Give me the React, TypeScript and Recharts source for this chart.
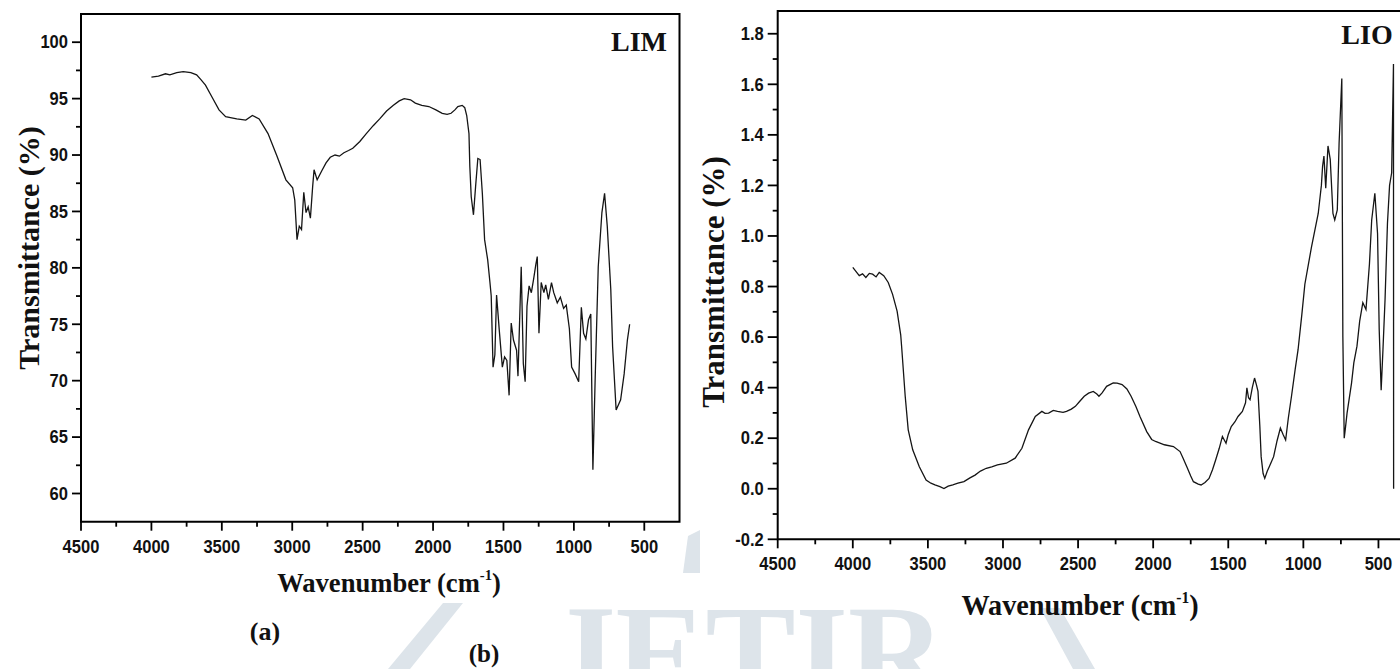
import React from "react";
import { LineChart, Line, XAxis, YAxis, ReferenceArea } from "recharts";

// wavenumber (cm-1), transmittance
const limSpectrum: [number, number][] = [
  [4000, 96.9], [3950, 97.0], [3900, 97.2], [3869, 97.1], [3820, 97.3], [3774, 97.4],
  [3720, 97.3], [3679, 97.1], [3650, 96.7], [3616, 96.2], [3568, 95.1], [3520, 94.0],
  [3473, 93.4], [3430, 93.3], [3394, 93.2], [3330, 93.1], [3283, 93.5], [3235, 93.2],
  [3172, 91.9], [3108, 89.9], [3045, 87.8], [2997, 87.1], [2982, 86.0], [2966, 82.5],
  [2950, 83.7], [2934, 83.4], [2918, 86.7], [2902, 84.9], [2887, 85.4], [2871, 84.4],
  [2855, 87.2], [2845, 88.7], [2823, 87.8], [2790, 88.6], [2760, 89.3], [2730, 89.8],
  [2696, 90.0], [2665, 89.9], [2633, 90.2], [2600, 90.4], [2570, 90.6], [2520, 91.2],
  [2474, 91.9], [2425, 92.6], [2379, 93.2], [2330, 93.9], [2284, 94.4], [2240, 94.8],
  [2205, 95.0], [2160, 94.9], [2126, 94.6], [2080, 94.4], [2030, 94.3], [1980, 94.0],
  [1935, 93.7], [1900, 93.6], [1872, 93.7], [1845, 94.0], [1824, 94.3], [1793, 94.4],
  [1775, 94.2], [1761, 93.5], [1745, 91.9], [1739, 89.0], [1729, 86.3], [1713, 84.7],
  [1698, 87.2], [1682, 89.7], [1666, 89.6], [1650, 86.6], [1634, 82.5], [1612, 80.7],
  [1596, 78.7], [1587, 77.5], [1574, 71.2], [1561, 72.3], [1549, 77.6], [1530, 74.5],
  [1508, 71.2], [1492, 72.1], [1476, 71.8], [1460, 68.7], [1445, 75.1], [1429, 73.6],
  [1407, 72.7], [1397, 70.4], [1374, 80.1], [1359, 71.5], [1346, 69.9], [1333, 76.6],
  [1318, 78.4], [1302, 77.8], [1286, 79.0], [1270, 80.3], [1260, 81.0], [1248, 74.2],
  [1232, 78.7], [1213, 77.8], [1200, 78.5], [1181, 77.2], [1159, 78.7], [1143, 77.8],
  [1118, 76.9], [1096, 77.4], [1073, 76.4], [1054, 76.7], [1032, 74.6], [1016, 71.2],
  [991, 70.6], [966, 69.9], [947, 76.5], [931, 74.2], [915, 73.7], [896, 75.4],
  [880, 75.9], [865, 62.1], [849, 70.1], [827, 80.1], [801, 84.9], [782, 86.6],
  [763, 83.7], [738, 78.1], [725, 73.0], [700, 67.4], [668, 68.3], [643, 70.6],
  [620, 73.6], [604, 75.0],
];

const lioSpectrum: [number, number][] = [
  [4000, 0.876], [3957, 0.843], [3935, 0.85], [3913, 0.836], [3890, 0.852], [3868, 0.849],
  [3845, 0.838], [3824, 0.856], [3794, 0.843], [3764, 0.816], [3735, 0.769], [3705, 0.703],
  [3681, 0.609], [3675, 0.564], [3651, 0.366], [3631, 0.233], [3601, 0.154], [3557, 0.087],
  [3512, 0.034], [3480, 0.022], [3453, 0.015], [3420, 0.008], [3393, 0.001], [3365, 0.01],
  [3334, 0.015], [3300, 0.022], [3260, 0.028], [3220, 0.043], [3186, 0.054], [3150, 0.07],
  [3111, 0.081], [3075, 0.087], [3037, 0.094], [2978, 0.101], [2919, 0.121], [2874, 0.16],
  [2830, 0.233], [2785, 0.286], [2741, 0.306], [2720, 0.298], [2696, 0.299], [2665, 0.31],
  [2637, 0.306], [2600, 0.302], [2577, 0.306], [2545, 0.315], [2518, 0.326], [2490, 0.345],
  [2459, 0.366], [2430, 0.378], [2399, 0.385], [2375, 0.375], [2361, 0.366], [2340, 0.379],
  [2310, 0.405], [2266, 0.419], [2240, 0.418], [2207, 0.412], [2175, 0.395], [2147, 0.366],
  [2115, 0.325], [2088, 0.286], [2043, 0.226], [2010, 0.195], [1984, 0.187], [1925, 0.174],
  [1865, 0.167], [1821, 0.147], [1800, 0.12], [1776, 0.087], [1750, 0.05], [1732, 0.028],
  [1700, 0.018], [1681, 0.015], [1655, 0.025], [1628, 0.041], [1605, 0.075], [1584, 0.114],
  [1560, 0.16], [1539, 0.207], [1515, 0.18], [1500, 0.215], [1480, 0.246], [1455, 0.265],
  [1435, 0.286], [1406, 0.306], [1385, 0.34], [1376, 0.399], [1365, 0.36], [1355, 0.352],
  [1340, 0.4], [1325, 0.438], [1312, 0.41], [1302, 0.385], [1290, 0.25], [1281, 0.127],
  [1268, 0.06], [1257, 0.041], [1240, 0.07], [1227, 0.087], [1198, 0.127], [1175, 0.19],
  [1153, 0.24], [1135, 0.215], [1118, 0.193], [1100, 0.28], [1079, 0.366], [1055, 0.47],
  [1035, 0.551], [1010, 0.69], [990, 0.809], [946, 0.956], [901, 1.089], [880, 1.2],
  [872, 1.276], [863, 1.316], [851, 1.189], [836, 1.356], [821, 1.303], [803, 1.089],
  [791, 1.063], [774, 1.103], [762, 1.369], [744, 1.623], [737, 0.6], [728, 0.2],
  [720, 0.24], [709, 0.299], [679, 0.419], [664, 0.498], [643, 0.564], [625, 0.663],
  [604, 0.736], [583, 0.709], [560, 0.889], [545, 1.063], [524, 1.169], [506, 1.009],
  [495, 0.63], [482, 0.39], [470, 0.55], [456, 0.75], [440, 1.05], [426, 1.2],
  [412, 1.25], [400, 1.68], [399, 0.0],
];

const xMajor = [4500, 4000, 3500, 3000, 2500, 2000, 1500, 1000, 500];
const xTicks = [4500, 4250, 4000, 3750, 3500, 3250, 3000, 2750, 2500, 2250, 2000, 1750, 1500, 1250, 1000, 750, 500];

const limYMajor = [60, 65, 70, 75, 80, 85, 90, 95, 100];
const limYTicks = [60, 62.5, 65, 67.5, 70, 72.5, 75, 77.5, 80, 82.5, 85, 87.5, 90, 92.5, 95, 97.5, 100];

const lioYMajor = [-0.2, 0, 0.2, 0.4, 0.6, 0.8, 1.0, 1.2, 1.4, 1.6, 1.8];
const lioYTicks = [-0.2, -0.1, 0, 0.1, 0.2, 0.3, 0.4, 0.5, 0.6, 0.7, 0.8, 0.9, 1.0, 1.1, 1.2, 1.3, 1.4, 1.5, 1.6, 1.7, 1.8];

const limData = limSpectrum.map(([wn, t]) => ({ wn, t }));
const lioData = lioSpectrum.map(([wn, t]) => ({ wn, t }));

const sans = "'Liberation Sans', Arial, sans-serif";
const serif = "'Liberation Serif', 'Times New Roman', serif";

const isIn = (list: number[], v: number) => list.some((m) => Math.abs(m - v) < 1e-6);

function XTick(props: any) {
  const { x, y, payload, labelDy } = props;
  const major = isIn(xMajor, payload.value);
  return (
    <g>
      <line x1={x} x2={x} y1={y} y2={y + (major ? 9 : 5)} stroke="#000" strokeWidth={1.8} />
      {major && (
        <text
          transform={`translate(${x},${y + labelDy}) scale(0.92,1)`}
          textAnchor="middle"
          dominantBaseline="central"
          fontFamily={sans}
          fontWeight="bold"
          fontSize={18}
          fill="#111"
        >
          {payload.value}
        </text>
      )}
    </g>
  );
}

function YTick(props: any) {
  const { x, y, payload, majors, fmt, len } = props;
  const major = isIn(majors, payload.value);
  return (
    <g>
      <line x1={x - (major ? len : 5)} x2={x} y1={y} y2={y} stroke="#000" strokeWidth={1.8} />
      {major && (
        <text
          transform={`translate(${x - len - 4},${y}) scale(0.92,1)`}
          textAnchor="end"
          dominantBaseline="central"
          fontFamily={sans}
          fontWeight="bold"
          fontSize={18}
          fill="#111"
        >
          {fmt(payload.value)}
        </text>
      )}
    </g>
  );
}

function Label({ x, y, size, rotate, sx = 1, children }: any) {
  return (
    <div
      style={{
        position: "absolute",
        left: x,
        top: y,
        transform: `translate(-50%,-50%) ${rotate ? "rotate(-90deg)" : ""} scale(${sx},1)`,
        fontFamily: serif,
        fontWeight: "bold",
        fontSize: size,
        whiteSpace: "nowrap",
        lineHeight: 1,
        color: "#111",
      }}
    >
      {children}
    </div>
  );
}

const sup = { fontSize: "0.55em", position: "relative" as const, top: "-0.75em" };

const wm = "#dde4ea";

export default function App() {
  return (
    <div style={{ position: "absolute", left: 0, top: 0, width: 1400, height: 669, overflow: "hidden", background: "#fff" }}>
      {/* watermark */}
      <div style={{ position: "absolute", inset: 0, background: wm, clipPath: "polygon(443px 603px, 463px 603px, 410px 669px, 388px 669px)" }} />
      <div style={{ position: "absolute", inset: 0, background: wm, clipPath: "polygon(688px 536px, 700px 530px, 700px 573px, 683px 573px)" }} />
      <div style={{ position: "absolute", inset: 0, background: wm, clipPath: "polygon(1040px 608px, 1060px 608px, 1095px 669px, 1073px 669px)" }} />
      <div
        style={{
          position: "absolute",
          left: 548,
          top: 586,
          fontFamily: serif,
          fontWeight: "bold",
          fontSize: 135,
          lineHeight: 1,
          color: wm,
          whiteSpace: "nowrap",
        }}
      >
        JETIR
      </div>

      <div style={{ position: "absolute", left: 0, top: 0 }}>
        <LineChart width={700} height={669} data={limData} margin={{ top: 14, right: 20.5, bottom: 107.3, left: 0 }}>
          <XAxis
            dataKey="wn"
            type="number"
            domain={[250, 4500]}
            reversed
            ticks={xTicks}
            interval={0}
            tickSize={0}
            tickMargin={0}
            axisLine={false}
            tickLine={false}
            height={40}
            allowDataOverflow
            tick={(p: any) => <XTick {...p} labelDy={25} />}
          />
          <YAxis
            type="number"
            domain={[57.5, 102.5]}
            ticks={limYTicks}
            interval={0}
            tickSize={0}
            tickMargin={0}
            axisLine={false}
            tickLine={false}
            width={81}
            allowDataOverflow
            tick={(p: any) => <YTick {...p} majors={limYMajor} len={9} fmt={(v: number) => String(v)} />}
          />
          <Line dataKey="t" type="linear" stroke="#151515" strokeWidth={1.3} dot={false} isAnimationActive={false} />
          <ReferenceArea x1={250} x2={4500} y1={57.5} y2={102.5} fill="none" stroke="#000" strokeWidth={2} ifOverflow="visible" />
        </LineChart>
      </div>

      <div style={{ position: "absolute", left: 700, top: 0 }}>
        <LineChart width={740} height={669} data={lioData} margin={{ top: 11, right: 24, bottom: 89.7, left: 0 }}>
          <XAxis
            dataKey="wn"
            type="number"
            domain={[250, 4500]}
            reversed
            ticks={xTicks}
            interval={0}
            tickSize={0}
            tickMargin={0}
            axisLine={false}
            tickLine={false}
            height={40}
            allowDataOverflow
            tick={(p: any) => <XTick {...p} labelDy={24} />}
          />
          <YAxis
            type="number"
            domain={[-0.2, 1.89]}
            ticks={lioYTicks}
            interval={0}
            tickSize={0}
            tickMargin={0}
            axisLine={false}
            tickLine={false}
            width={77.7}
            allowDataOverflow
            tick={(p: any) => <YTick {...p} majors={lioYMajor} len={10} fmt={(v: number) => v.toFixed(1)} />}
          />
          <Line dataKey="t" type="linear" stroke="#151515" strokeWidth={1.3} dot={false} isAnimationActive={false} />
          <ReferenceArea x1={250} x2={4500} y1={-0.2} y2={1.89} fill="none" stroke="#000" strokeWidth={2} ifOverflow="visible" />
        </LineChart>
      </div>

      <Label x={389} y={583} size={28} sx={0.95}>
        Wavenumber (cm<span style={sup}>-1</span>)
      </Label>
      <Label x={29} y={248} size={30} rotate>
        Transmittance (%)
      </Label>
      <Label x={639} y={42} size={28}>LIM</Label>
      <Label x={265} y={632} size={26}>(a)</Label>
      <Label x={484} y={653} size={25}>(b)</Label>

      <Label x={1080} y={605} size={30} sx={0.94}>
        Wavenumber (cm<span style={sup}>-1</span>)
      </Label>
      <Label x={713} y={282} size={31} rotate>
        Transmittance (%)
      </Label>
      <Label x={1367} y={35} size={28}>LIO</Label>
    </div>
  );
}
